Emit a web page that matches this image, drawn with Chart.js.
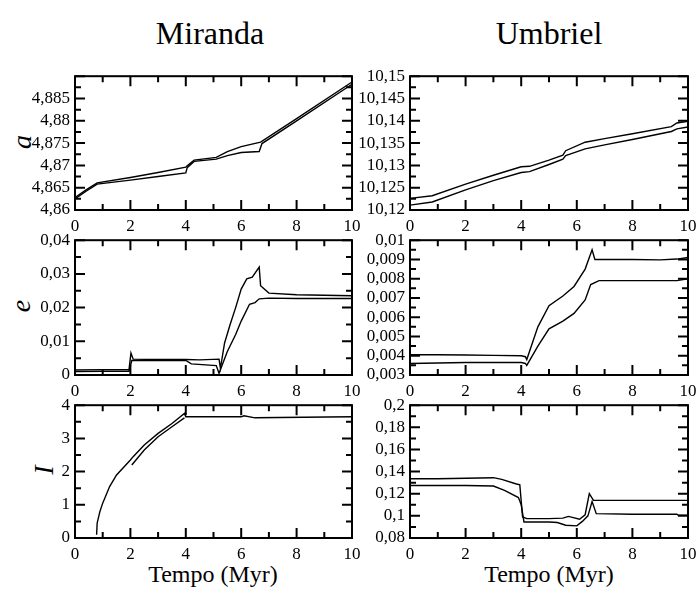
<!DOCTYPE html>
<html>
<head>
<meta charset="utf-8">
<script src="https://cdn.jsdelivr.net/npm/chart.js@4.4.1/dist/chart.umd.min.js"></script>
<style>
  body { margin: 0; background: #fff; }
  #wrap { position: relative; width: 698px; height: 594px; overflow: hidden; font-family: "Liberation Serif", serif; color: #000; }
  canvas { position: absolute; }
  .txt { position: absolute; white-space: nowrap; line-height: 1; }
  .rot { transform: translate(-50%, -50%) rotate(-90deg); font-style: italic; font-size: 28px; }
</style>
</head>
<body>
<div id="wrap">
  <div class="txt" style="left:210px; top:17px; font-size:32px; transform:translateX(-50%);">Miranda</div>
  <div class="txt" style="left:549px; top:17px; font-size:32px; transform:translateX(-50%);">Umbriel</div>
  <div class="txt rot" style="left:22px; top:142px;">a</div>
  <div class="txt rot" style="left:21px; top:306px;">e</div>
  <div class="txt rot" style="left:44px; top:470px;">I</div>
  <div class="txt" style="left:213px; top:562px; font-size:24px; transform:translateX(-50%);">Tempo (Myr)</div>
  <div class="txt" style="left:549px; top:562px; font-size:24px; transform:translateX(-50%);">Tempo (Myr)</div>
</div>
<script>
// eixo do tempo (Myr)
const tempoTicks = [0, 2, 4, 6, 8, 10];

// Miranda - semi-eixo a
const mirAT1 = [0, 0.4, 0.8, 2, 3, 4, 4.05, 4.3, 5.1, 5.5, 6, 6.7, 8, 10];
const mirAV1 = [4.8628, 4.8645, 4.8661, 4.8673, 4.8684, 4.8696, 4.8699, 4.8712, 4.8718, 4.8731, 4.8742, 4.8752, 4.8805, 4.8887];
const mirAT2 = [0, 0.4, 0.8, 2, 3, 4, 4.05, 4.3, 5.1, 5.5, 6, 6.65, 6.75, 8, 10];
const mirAV2 = [4.8625, 4.8642, 4.8658, 4.8667, 4.8675, 4.8683, 4.8695, 4.8709, 4.8714, 4.8722, 4.8729, 4.8731, 4.8749, 4.8800, 4.8882];
const mirATicks = [4.86, 4.865, 4.87, 4.875, 4.88, 4.885];

// Umbriel - semi-eixo a
const umbAT1 = [0, 0.8, 2, 3, 4, 4.3, 5, 5.5, 5.6, 6.3, 7, 8, 9.4, 9.6, 10];
const umbAV1 = [10.1226, 10.1232, 10.1258, 10.1278, 10.1297, 10.1298, 10.1312, 10.1323, 10.1333, 10.1352, 10.1360, 10.1371, 10.1387, 10.1395, 10.1399];
const umbAT2 = [0, 0.8, 2, 3, 4, 4.3, 5, 5.5, 5.6, 6.3, 7, 8, 9.4, 9.6, 10];
const umbAV2 = [10.1211, 10.1218, 10.1245, 10.1266, 10.1284, 10.1286, 10.1302, 10.1314, 10.1322, 10.1337, 10.1346, 10.1358, 10.1376, 10.1382, 10.1386];
const umbATicks = [10.12, 10.125, 10.13, 10.135, 10.14, 10.145, 10.15];

// Miranda - excentricidade e
const mirET1 = [0, 1, 1.95, 2.02, 2.1, 3, 4, 4.5, 5.2, 5.25, 5.4, 5.6, 5.8, 6, 6.2, 6.4, 6.65, 6.7, 7, 8, 10];
const mirEV1 = [0.0015, 0.0016, 0.0016, 0.0065, 0.0047, 0.0046, 0.0046, 0.0045, 0.0047, 0.002, 0.0095, 0.015, 0.02, 0.0255, 0.0285, 0.029, 0.032, 0.0265, 0.0243, 0.0238, 0.0235];
const mirET2 = [0, 1, 1.95, 2.05, 3, 4, 4.2, 5.1, 5.2, 5.5, 5.8, 6, 6.3, 6.5, 6.65, 7, 8, 10];
const mirEV2 = [0.0010, 0.0011, 0.0011, 0.0043, 0.0043, 0.0043, 0.0033, 0.0028, 0.0005, 0.007, 0.012, 0.016, 0.021, 0.0215, 0.0226, 0.0228, 0.0227, 0.0227];
const mirETicks = [0, 0.01, 0.02, 0.03, 0.04];

// Umbriel - excentricidade e
const umbET1 = [0, 1, 2, 3, 4, 4.15, 4.2, 4.6, 5, 5.5, 5.9, 6.3, 6.55, 6.65, 7, 8, 9, 9.6, 10];
const umbEV1 = [0.00405, 0.00405, 0.00404, 0.00402, 0.00400, 0.00395, 0.0038, 0.0055, 0.0066, 0.0071, 0.0076, 0.0085, 0.0095, 0.0090, 0.0090, 0.0090, 0.00898, 0.00902, 0.0091];
const umbET2 = [0, 2, 4, 4.15, 4.2, 4.6, 5, 5.5, 5.9, 6.3, 6.5, 6.8, 8, 9.6, 10];
const umbEV2 = [0.0036, 0.00365, 0.00365, 0.0036, 0.0035, 0.0045, 0.0054, 0.0058, 0.0062, 0.0069, 0.0077, 0.0079, 0.0079, 0.0079, 0.0080];
const umbETicks = [0.003, 0.004, 0.005, 0.006, 0.007, 0.008, 0.009, 0.01];

// Miranda - inclinacao I
const mirIT1 = [0.78, 0.8, 0.9, 1, 1.25, 1.5, 2, 2.1, 2.5, 3, 3.5, 3.95, 4, 6, 6.1, 6.5, 10];
const mirIV1 = [0.1, 0.45, 0.8, 1.05, 1.55, 1.9, 2.35, 2.45, 2.8, 3.15, 3.45, 3.75, 3.65, 3.65, 3.68, 3.62, 3.65];
const mirIT2 = [2.05, 2.5, 3, 3.5, 3.95];
const mirIV2 = [2.2, 2.65, 3.05, 3.35, 3.62];
const mirITicks = [0, 1, 2, 3, 4];

// Umbriel - inclinacao I
const umbIT1 = [0, 1, 2, 3, 3.3, 3.8, 3.95, 4.05, 4.2, 5, 5.5, 5.7, 6.1, 6.3, 6.45, 6.6, 7, 10];
const umbIV1 = [0.1335, 0.1335, 0.134, 0.1345, 0.133, 0.129, 0.128, 0.099, 0.0975, 0.0975, 0.098, 0.0995, 0.097, 0.101, 0.12, 0.114, 0.114, 0.114];
const umbIT2 = [0, 1, 2, 3, 3.4, 3.9, 4, 4.1, 5, 5.3, 5.6, 6, 6.2, 6.4, 6.55, 6.7, 8, 9.6, 9.65, 10];
const umbIV2 = [0.1275, 0.1275, 0.1275, 0.127, 0.123, 0.1165, 0.11, 0.0945, 0.0945, 0.094, 0.0915, 0.091, 0.095, 0.1, 0.113, 0.102, 0.1015, 0.1015, 0.1005, 0.1005];
const umbITicks = [0.08, 0.1, 0.12, 0.14, 0.16, 0.18, 0.2];

Chart.defaults.font.family = 'Liberation Serif';
Chart.defaults.color = '#000';

const AXIS_W = 75, PAD_TOP = 12, PAD_RIGHT = 16, AXIS_H = 28;

function pontos(ts, vs) {
    return ts.map((t, i) => ({ x: t, y: vs[i] }));
}

function fmt(v) {
    return parseFloat(Number(v).toFixed(6)).toString().replace('.', ',');
}

// marcas: maiores nos ticks, menores no meio
function marcas(ticks, max) {
    const half = (ticks[1] - ticks[0]) / 2;
    const out = [];
    for (let i = 0; ticks[0] + i * half <= max + half * 1e-3; i++) {
        out.push({ v: ticks[0] + i * half, major: i % 2 === 0 });
    }
    return out;
}

function painel(box, series, yTicks, yMin, yMax) {
    const cv = document.createElement('canvas');
    const w = box.right - box.left + AXIS_W + PAD_RIGHT;
    const h = box.bottom - box.top + PAD_TOP + AXIS_H;
    cv.width = w; cv.height = h;
    cv.style.left = (box.left - AXIS_W) + 'px';
    cv.style.top = (box.top - PAD_TOP) + 'px';
    cv.style.width = w + 'px'; cv.style.height = h + 'px';
    document.getElementById('wrap').appendChild(cv);

    // moldura com marcas internas nos quatro lados
    const moldura = {
        id: 'moldura',
        afterDatasetsDraw(chart) {
            const ctx = chart.ctx;
            const a = chart.chartArea;
            const sx = chart.scales.x, sy = chart.scales.y;
            ctx.save();
            ctx.strokeStyle = '#000';
            ctx.lineWidth = 2;
            for (const m of marcas(tempoTicks, 10)) {
                const p = sx.getPixelForValue(m.v);
                const len = m.major ? 10 : 6;
                ctx.beginPath();
                ctx.moveTo(p, a.bottom);
                ctx.lineTo(p, a.bottom - len);
                ctx.moveTo(p, a.top);
                ctx.lineTo(p, a.top + len);
                ctx.stroke();
            }
            for (const m of marcas(yTicks, yMax)) {
                const p = sy.getPixelForValue(m.v);
                const len = m.major ? 10 : 6;
                ctx.beginPath();
                ctx.moveTo(a.left, p);
                ctx.lineTo(a.left + len, p);
                ctx.moveTo(a.right, p);
                ctx.lineTo(a.right - len, p);
                ctx.stroke();
            }
            ctx.strokeRect(a.left, a.top, a.right - a.left, a.bottom - a.top);
            ctx.restore();
        }
    };

    return new Chart(cv.getContext('2d'), {
        type: 'scatter',
        data: {
            datasets: series.map(s => ({
                data: pontos(s[0], s[1]),
                showLine: true,
                borderColor: '#000',
                borderWidth: 1.4,
                pointRadius: 0,
                fill: false
            }))
        },
        options: {
            responsive: false,
            animation: false,
            layout: { padding: { top: PAD_TOP, right: PAD_RIGHT, left: 0, bottom: 0 } },
            plugins: { legend: { display: false }, tooltip: { enabled: false } },
            scales: {
                x: {
                    type: 'linear', min: 0, max: 10,
                    afterBuildTicks: s => { s.ticks = tempoTicks.map(v => ({ value: v })); },
                    afterFit: s => { s.height = AXIS_H; },
                    grid: { display: false, drawTicks: false }, border: { display: false },
                    ticks: { font: { size: 17 }, color: '#000', padding: 6, maxRotation: 0, autoSkip: false, callback: fmt }
                },
                y: {
                    type: 'linear', min: yMin, max: yMax,
                    afterBuildTicks: s => { s.ticks = yTicks.map(v => ({ value: v })); },
                    afterFit: s => { s.width = AXIS_W; },
                    grid: { display: false, drawTicks: false }, border: { display: false },
                    ticks: { font: { size: 17 }, color: '#000', padding: 5, autoSkip: false, callback: fmt }
                }
            }
        },
        plugins: [moldura]
    });
}

const colE = { left: 75, right: 352 }, colD = { left: 410, right: 688 };
const linhas = [{ top: 73, bottom: 210 }, { top: 237, bottom: 375 }, { top: 402, bottom: 538 }];
const caixa = (c, l) => ({ left: c.left, right: c.right, top: l.top, bottom: l.bottom });

painel(caixa(colE, linhas[0]), [[mirAT1, mirAV1], [mirAT2, mirAV2]], mirATicks, 4.86, 4.89);
painel(caixa(colD, linhas[0]), [[umbAT1, umbAV1], [umbAT2, umbAV2]], umbATicks, 10.12, 10.15);
painel(caixa(colE, linhas[1]), [[mirET1, mirEV1], [mirET2, mirEV2]], mirETicks, 0, 0.04);
painel(caixa(colD, linhas[1]), [[umbET1, umbEV1], [umbET2, umbEV2]], umbETicks, 0.003, 0.01);
painel(caixa(colE, linhas[2]), [[mirIT1, mirIV1], [mirIT2, mirIV2]], mirITicks, 0, 4);
painel(caixa(colD, linhas[2]), [[umbIT1, umbIV1], [umbIT2, umbIV2]], umbITicks, 0.08, 0.2);
</script>
</body>
</html>
